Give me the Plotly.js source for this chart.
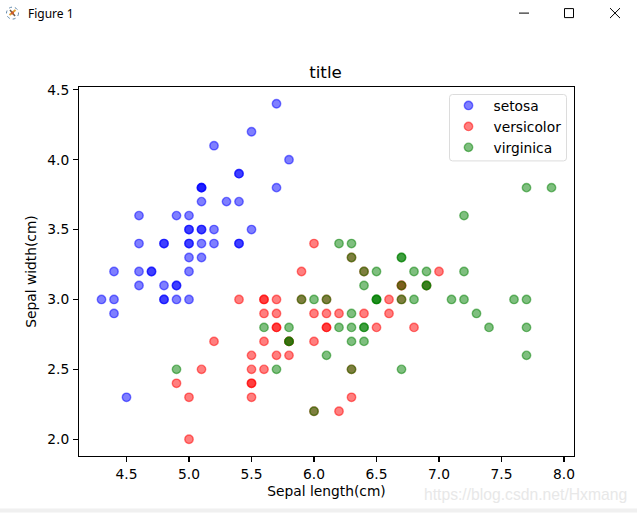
<!DOCTYPE html>
<html><head><meta charset="utf-8">
<script src="https://cdn.plot.ly/plotly-3.0.1.min.js"></script>
<style>html,body{margin:0;padding:0;background:#fff;overflow:hidden}#c{width:637px;height:513px}</style>
</head><body><div id="c"></div>
<script>
const setosaX=[5.1,4.9,4.7,4.6,5.0,5.4,4.6,5.0,4.4,4.9,5.4,4.8,4.8,4.3,5.8,5.7,5.4,5.1,5.7,5.1,5.4,5.1,4.6,5.1,4.8,5.0,5.0,5.2,5.2,4.7,4.8,5.4,5.2,5.5,4.9,5.0,5.5,4.9,4.4,5.1,5.0,4.5,4.4,5.0,5.1,4.8,5.1,4.6,5.3,5.0];
const setosaY=[3.5,3.0,3.2,3.1,3.6,3.9,3.4,3.4,2.9,3.1,3.7,3.4,3.0,3.0,4.0,4.4,3.9,3.5,3.8,3.8,3.4,3.7,3.6,3.3,3.4,3.0,3.4,3.5,3.4,3.2,3.1,3.4,4.1,4.2,3.1,3.2,3.5,3.6,3.0,3.4,3.5,2.3,3.2,3.5,3.8,3.0,3.8,3.2,3.7,3.3];
const versicolorX=[7.0,6.4,6.9,5.5,6.5,5.7,6.3,4.9,6.6,5.2,5.0,5.9,6.0,6.1,5.6,6.7,5.6,5.8,6.2,5.6,5.9,6.1,6.3,6.1,6.4,6.6,6.8,6.7,6.0,5.7,5.5,5.5,5.8,6.0,5.4,6.0,6.7,6.3,5.6,5.5,5.5,6.1,5.8,5.0,5.6,5.7,5.7,6.2,5.1,5.7];
const versicolorY=[3.2,3.2,3.1,2.3,2.8,2.8,3.3,2.4,2.9,2.7,2.0,3.0,2.2,2.9,2.9,3.1,3.0,2.7,2.2,2.5,3.2,2.8,2.5,2.8,2.9,3.0,2.8,3.0,2.9,2.6,2.4,2.4,2.7,2.7,3.0,3.4,3.1,2.3,3.0,2.5,2.6,3.0,2.6,2.3,2.7,3.0,2.9,2.9,2.5,2.8];
const virginicaX=[6.3,5.8,7.1,6.3,6.5,7.6,4.9,7.3,6.7,7.2,6.5,6.4,6.8,5.7,5.8,6.4,6.5,7.7,7.7,6.0,6.9,5.6,7.7,6.3,6.7,7.2,6.2,6.1,6.4,7.2,7.4,7.9,6.4,6.3,6.1,7.7,6.3,6.4,6.0,6.9,6.7,6.9,5.8,6.8,6.7,6.7,6.3,6.5,6.2,5.9];
const virginicaY=[3.3,2.7,3.0,2.9,3.0,3.0,2.5,2.9,2.5,3.6,3.2,2.7,3.0,2.5,2.8,3.2,3.0,3.8,2.6,2.2,3.2,2.8,2.8,2.7,3.3,3.2,2.8,3.0,2.8,3.0,2.8,3.8,2.8,2.8,2.6,3.0,3.4,3.1,3.0,3.1,3.1,3.1,2.7,3.2,3.3,3.0,2.5,3.0,3.4,3.0];
const xTicks=[4.5,5.0,5.5,6.0,6.5,7.0,7.5,8.0];
const yTicks=[2.0,2.5,3.0,3.5,4.0,4.5];
const F='"DejaVu Sans", sans-serif';
const W=637,H=513,L=79,R=574,T=87,B=456.5;
const px=x=>(x-L)/(R-L), py=y=>(B-y)/(B-T);
function tr(name,x,y,rgb){return {type:'scatter',mode:'markers',name,x,y,
  marker:{size:8.4,color:`rgba(${rgb},0.5)`,line:{width:1.4,color:`rgba(${rgb},0.5)`}}};}
const axis={showgrid:false,zeroline:false,showline:true,mirror:true,linecolor:'#000',linewidth:1.1,
  ticks:'outside',ticklen:4.9,tickwidth:1.1,tickcolor:'#000',tickfont:{family:F,size:13.8,color:'#000'},
  tickformat:'.1f',automargin:false};
const seg=(x0,y0,x1,y1,c,w)=>({type:'line',xref:'paper',yref:'paper',x0:px(x0),y0:py(y0),x1:px(x1),y1:py(y1),line:{color:c||'#000',width:w||1}});
const circ=(x0,y0,x1,y1,fill,line)=>({type:'circle',xref:'paper',yref:'paper',x0:px(x0),x1:px(x1),y0:py(y0),y1:py(y1),fillcolor:fill||'rgba(0,0,0,0)',line:line||{width:0}});
const lx0=449.5,lx1=566.5,ly0=94.5,ly1=161,r=3;
const roundBox=`M ${px(lx0+r)} ${py(ly0)} L ${px(lx1-r)} ${py(ly0)} Q ${px(lx1)} ${py(ly0)} ${px(lx1)} ${py(ly0+r)} L ${px(lx1)} ${py(ly1-r)} Q ${px(lx1)} ${py(ly1)} ${px(lx1-r)} ${py(ly1)} L ${px(lx0+r)} ${py(ly1)} Q ${px(lx0)} ${py(ly1)} ${px(lx0)} ${py(ly1-r)} L ${px(lx0)} ${py(ly0+r)} Q ${px(lx0)} ${py(ly0)} ${px(lx0+r)} ${py(ly0)} Z`;
const layout={width:W,height:H,paper_bgcolor:'#fff',plot_bgcolor:'#fff',showlegend:true,
  margin:{l:L,r:W-R,t:T,b:H-B,pad:0},
  title:{text:'title',font:{family:F,size:16.7,color:'#000'},x:325.5/W,xanchor:'center',y:1-72/H,yanchor:'middle'},
  xaxis:Object.assign({},axis,{range:[4.12,8.08],tickvals:xTicks,title:{text:'Sepal length(cm)',font:{family:F,size:13.8,color:'#000'},standoff:5}}),
  yaxis:Object.assign({},axis,{range:[1.88,4.52],tickvals:yTicks,ticklabelstandoff:1,title:{text:'Sepal width(cm)',font:{family:F,size:13.8,color:'#000'},standoff:7}}),
  legend:{x:px(443.5),xanchor:'left',y:py(90),yanchor:'top',bgcolor:'rgba(0,0,0,0)',borderwidth:0,
    font:{family:F,size:13.8,color:'#000'},itemwidth:40,itemclick:false},
  shapes:[
    {type:'path',xref:'paper',yref:'paper',path:roundBox,fillcolor:'#fff',line:{color:'#dcdcdc',width:1},layer:'below'},
    {type:'rect',xref:'paper',yref:'paper',x0:px(0),x1:px(637),y0:py(509),y1:py(513),fillcolor:'#f0f0f0',line:{width:0},layer:'below'},
    seg(519,13,529,13),
    {type:'rect',xref:'paper',yref:'paper',x0:px(564.5),x1:px(573.5),y0:py(8.5),y1:py(17.5),line:{color:'#000',width:1}},
    seg(610,8,620,18),seg(610,18,620,8),
    circ(6.5,7,18.5,19,null,{color:'#5f86a8',width:1,dash:'dot'}),
    seg(9.5,15,15.5,10,'#e0a030',2),
    seg(10,10,15,16,'#6a5a48',1.5),
    circ(11,11.5,14,14.5,'#d05a30')
  ],
  annotations:[
    {text:'Figure 1',xref:'paper',yref:'paper',x:px(26),y:py(13.5),xanchor:'left',yanchor:'middle',showarrow:false,font:{family:'"Noto Sans", sans-serif',size:12,color:'#000'}},
    {text:'https://blog.csdn.net/Hxmang',xref:'paper',yref:'paper',x:px(422),y:py(495),xanchor:'left',yanchor:'middle',showarrow:false,font:{family:'"Liberation Sans", sans-serif',size:15.7,color:'#e8e8e8'}}
  ]};
Plotly.newPlot('c',[tr('setosa',setosaX,setosaY,'0,0,255'),tr('versicolor',versicolorX,versicolorY,'255,0,0'),tr('virginica',virginicaX,virginicaY,'0,128,0')],layout,{displayModeBar:false,staticPlot:true});
</script></body></html>
